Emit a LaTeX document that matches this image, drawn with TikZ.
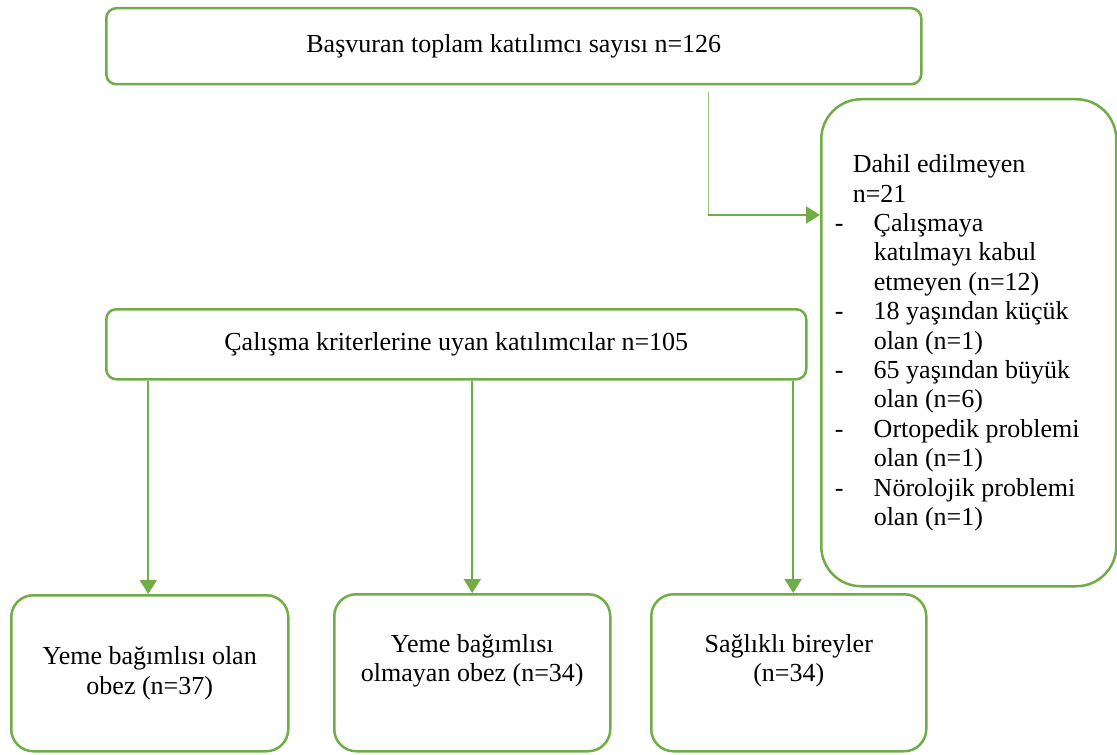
\documentclass[tikz,border=0pt]{standalone}
\usepackage{fontspec}
\setmainfont{Liberation Serif}
\usetikzlibrary{arrows.meta,positioning}
\definecolor{boxgreen}{RGB}{112,173,71}
\definecolor{linkgreen}{RGB}{150,196,120}
\newcommand{\dashitem}{\makebox[19.5pt][l]{-}}
\newcommand{\contline}{\hspace*{19.5pt}}

\begin{document}
\begin{tikzpicture}[x=0.5pt,y=-0.5pt,
  box/.style={draw=boxgreen,line width=1.25pt,rounded corners=5pt,fill=white,
    inner sep=0pt,align=flush center,anchor=north west,
    font=\fontsize{13}{14.7}\selectfont},
  flow/.style={draw=boxgreen,line width=1pt,-{Triangle[length=7pt,width=8.5pt]}},
  thinlink/.style={draw=linkgreen,line width=0.5pt}]
\useasboundingbox[fill=white] (0,0) rectangle (1117,754);

%total
\node[box,minimum width=407.5pt,minimum height=38pt] (total) at (105,7)
  {Başvuran toplam katılımcı sayısı n=126};

%excluded
\node[box,rounded corners=20pt,minimum width=147.5pt,minimum height=243.5pt,
  align=flush left,text width=134pt,inner xsep=6.5pt] (excl) at (820,98)
  {\hspace*{9pt}Dahil edilmeyen\\
   \hspace*{9pt}n=21\\
   \dashitem Çalışmaya\\
   \contline katılmayı kabul\\
   \contline etmeyen (n=12)\\
   \dashitem 18 yaşından küçük\\
   \contline olan (n=1)\\
   \dashitem 65 yaşından büyük\\
   \contline olan (n=6)\\
   \dashitem Ortopedik problemi\\
   \contline olan (n=1)\\
   \dashitem Nörolojik problemi\\
   \contline olan (n=1)};

%included
\node[box,minimum width=350pt,minimum height=35pt] (incl) at (105,308)
  {Çalışma kriterlerine uyan katılımcılar n=105};

%groups
\node[box,rounded corners=11pt,minimum width=138.5pt,minimum height=78pt] (addict) at (10,594)
  {Yeme bağımlısı olan\\obez (n=37)};
\node[box,rounded corners=11pt,minimum width=138pt,minimum height=78.5pt] (nonaddict) at (333,593)
  {Yeme bağımlısı\\olmayan obez (n=34)\\\mbox{}};
\node[box,rounded corners=11pt,minimum width=137.5pt,minimum height=78.5pt] (healthy) at (650,593)
  {Sağlıklı bireyler\\(n=34)\\\mbox{}};

%exclusion link
\coordinate (drop) at (708,92);
\coordinate (bend) at (708,215);
\draw[thinlink] (drop) -- (bend);
\draw[flow] (bend) -- (excl.west |- bend);

%down arrows
\draw[flow] ([xshift=-0.75pt]incl.south -| addict.north) -- ([xshift=-0.75pt]addict.north);
\draw[flow] (incl.south -| nonaddict.north) -- (nonaddict.north);
\draw[flow] ([xshift=2.25pt]incl.south -| healthy.north) -- ([xshift=2.25pt]healthy.north);
\end{tikzpicture}
\end{document}
